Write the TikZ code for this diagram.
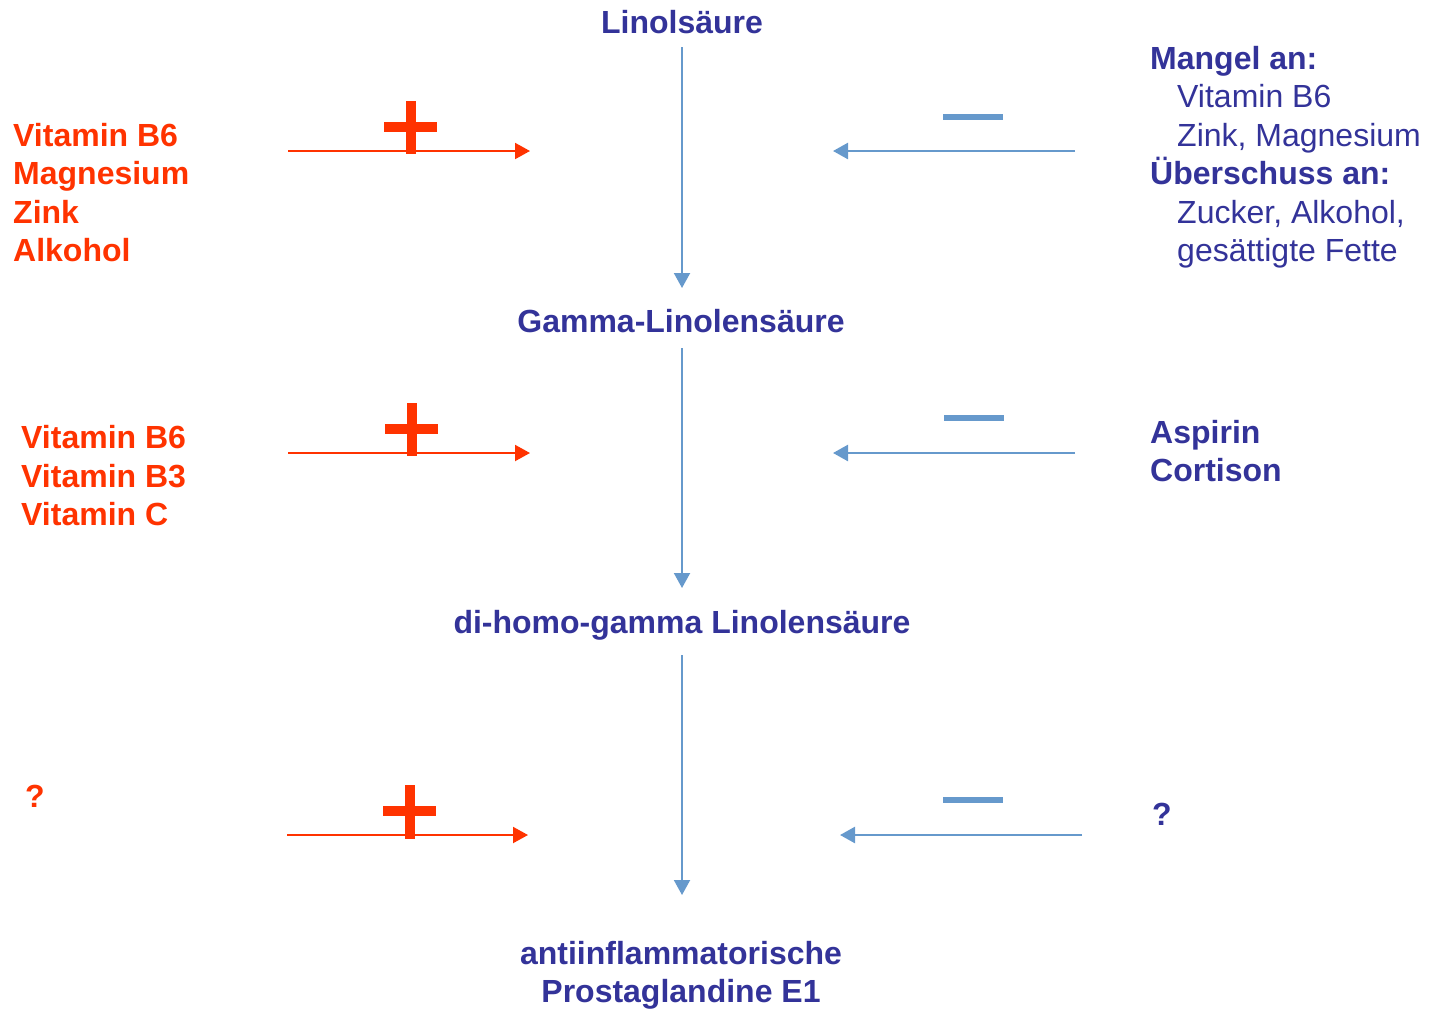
\documentclass[tikz,border=0pt]{standalone}
\usepackage{fontspec}
\setmainfont{Liberation Sans}
\usetikzlibrary{arrows.meta}
\definecolor{myred}{HTML}{FF3300}
\definecolor{mynavy}{HTML}{333399}
\definecolor{myblue}{HTML}{6699CC}
\begin{document}
\begin{tikzpicture}[x=1pt,y=-1pt,
  txt/.style={inner sep=0pt,anchor=base west,align=left,font=\fontsize{32}{38.5}\selectfont},
  ctr/.style={inner sep=0pt,anchor=base,font=\fontsize{32}{38.5}\selectfont\bfseries,text=mynavy},
  redlab/.style={txt,font=\fontsize{32}{38.5}\selectfont\bfseries,text=myred},
  bluelab/.style={txt,text=mynavy},
  vflow/.style={draw=myblue,line width=2pt,-{Triangle[length=15pt,width=16pt]}},
  plusarr/.style={draw=myred,line width=2pt,-{Triangle[length=15pt,width=16pt]}},
  minusarr/.style={draw=myblue,line width=2.5pt,-{Triangle[length=15pt,width=16pt]}},
  plusbar/.style={fill=myred},
  minusbar/.style={fill=myblue}]
\useasboundingbox (0,0) rectangle (1431,1009);
% main chain
\node[ctr] (n1) at (682,33.5) {Linolsäure};
\node[ctr] (n2) at (681,332.5) {Gamma-Linolensäure};
\node[ctr] (n3) at (682,633.5) {di-homo-gamma Linolensäure};
\node[ctr,align=center,anchor=north] (n4) at (681,941) {antiinflammatorische\\Prostaglandine E1};
\coordinate (a1s) at (682,47); \coordinate (a1e) at (682,288);
\coordinate (a2s) at (682,348); \coordinate (a2e) at (682,588);
\coordinate (a3s) at (682,655); \coordinate (a3e) at (682,895);
\draw[vflow] (a1s) -- (a1e);
\draw[vflow] (a2s) -- (a2e);
\draw[vflow] (a3s) -- (a3e);
% left labels
\node[redlab] (l1) at (13,261.5) {Vitamin B6\\Magnesium\\Zink\\Alkohol};
\node[redlab] (l2) at (21,525.5) {Vitamin B6\\Vitamin B3\\Vitamin C};
\node[redlab] (l3) at (25,807.5) {?};
% right labels
\node[bluelab] (r1) at (1150,261.5) {\textbf{Mangel an:}\\\hspace*{27pt}Vitamin B6\\\hspace*{27pt}Zink, Magnesium\\\textbf{Überschuss an:}\\\hspace*{27pt}Zucker, Alkohol,\\\hspace*{27pt}gesättigte Fette};
\node[bluelab,font=\fontsize{32}{38.5}\selectfont\bfseries] (r2) at (1150,481.5) {Aspirin\\Cortison};
\node[bluelab,font=\fontsize{32}{38.5}\selectfont\bfseries] (r3) at (1152,825.5) {?};
% influence arrows
\coordinate (p1s) at (288,151); \coordinate (p1e) at (530,151);
\coordinate (p2s) at (288,453); \coordinate (p2e) at (530,453);
\coordinate (p3s) at (287,835); \coordinate (p3e) at (528,835);
\coordinate (m1s) at (1075,151); \coordinate (m1e) at (833,151);
\coordinate (m2s) at (1075,453); \coordinate (m2e) at (833,453);
\coordinate (m3s) at (1082,835); \coordinate (m3e) at (840,835);
\draw[plusarr] (p1s) -- (p1e);
\draw[plusarr] (p2s) -- (p2e);
\draw[plusarr] (p3s) -- (p3e);
\draw[minusarr] (m1s) -- (m1e);
\draw[minusarr] (m2s) -- (m2e);
\draw[minusarr] (m3s) -- (m3e);
% plus signs
\fill[plusbar] (384,122) rectangle (437,132);
\fill[plusbar] (406,101) rectangle (416,154);
\fill[plusbar] (385,424) rectangle (438,434);
\fill[plusbar] (407,403) rectangle (417,456);
\fill[plusbar] (383,806) rectangle (436,816);
\fill[plusbar] (405,785) rectangle (415,839);
% minus signs
\fill[minusbar] (943,114) rectangle (1003,120);
\fill[minusbar] (944,415) rectangle (1004,421);
\fill[minusbar] (943,797) rectangle (1003,803);
\end{tikzpicture}
\end{document}
